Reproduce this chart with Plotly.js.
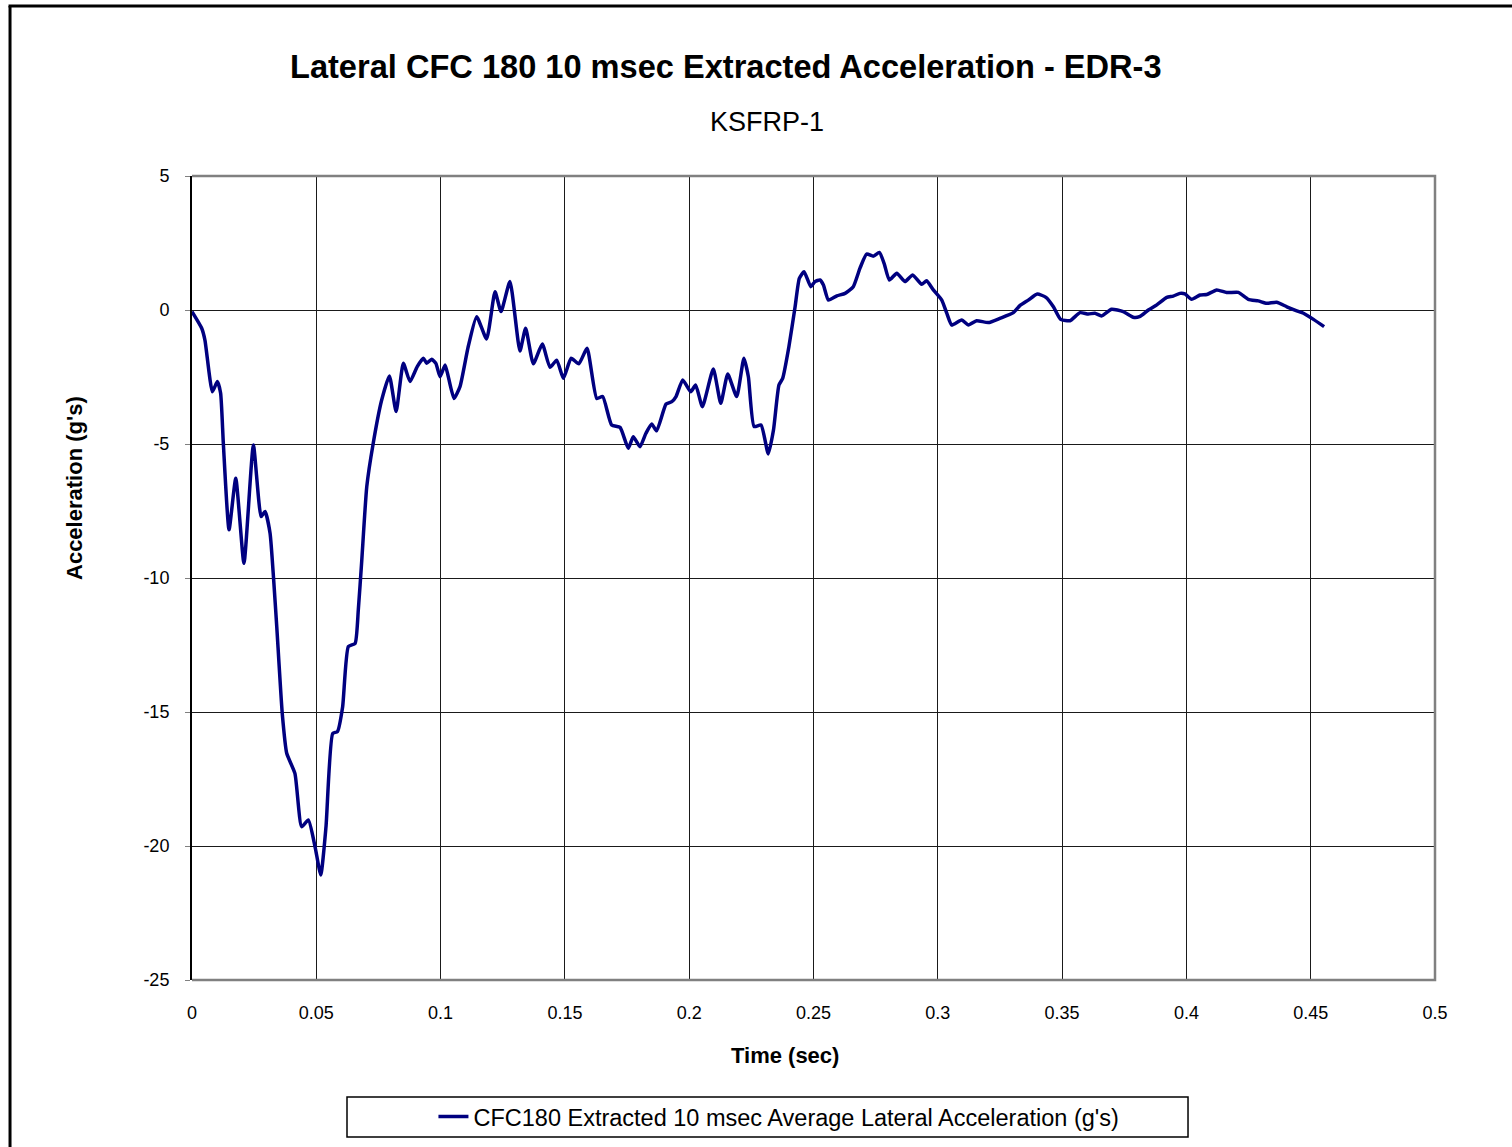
<!DOCTYPE html>
<html>
<head>
<meta charset="utf-8">
<script src="https://cdn.plot.ly/plotly-3.0.1.min.js"></script>
<style>
html,body{margin:0;padding:0;background:#fff;overflow:hidden;}
#chart{width:1512px;height:1147px;}
</style>
</head>
<body>
<div id="chart"></div>
<script>
const timeSec = [0,0.0039,0.0052,0.0082,0.0102,0.0115,0.0126,0.0149,0.0176,0.0209,0.0247,0.0278,0.0294,0.0314,0.0328,0.0341,0.0363,0.0381,0.0414,0.0441,0.0468,0.0495,0.0518,0.0539,0.0566,0.0585,0.0606,0.0629,0.0656,0.0669,0.0683,0.0703,0.0729,0.0763,0.0794,0.0821,0.0850,0.0877,0.0906,0.0931,0.0944,0.0964,0.0981,0.0998,0.1018,0.1031,0.1054,0.1078,0.1111,0.1145,0.1185,0.1219,0.1243,0.1279,0.1319,0.1342,0.1373,0.1409,0.1440,0.1467,0.1494,0.1525,0.1556,0.1589,0.1628,0.1652,0.1688,0.1722,0.1755,0.1775,0.1802,0.1826,0.1849,0.1869,0.1907,0.1930,0.1947,0.1974,0.2006,0.2026,0.2053,0.2097,0.2127,0.2155,0.2191,0.2220,0.2238,0.2261,0.2289,0.2318,0.2339,0.2361,0.2376,0.2401,0.2426,0.2443,0.2462,0.2489,0.2506,0.2526,0.2540,0.2560,0.2594,0.2627,0.2660,0.2687,0.2714,0.2741,0.2765,0.2784,0.2805,0.2835,0.2868,0.2899,0.2935,0.2955,0.2982,0.3016,0.3036,0.3056,0.3096,0.3123,0.3156,0.3203,0.3250,0.3304,0.3331,0.3364,0.3400,0.3435,0.3465,0.3494,0.3532,0.3572,0.3605,0.3632,0.3659,0.3699,0.3746,0.3786,0.3811,0.3847,0.3881,0.3921,0.3947,0.3974,0.3994,0.4021,0.4055,0.4082,0.4122,0.4162,0.4209,0.4249,0.4289,0.4323,0.4363,0.4404,0.4444,0.4471,0.4511,0.4554];
const accelG = [-0.06,-0.68,-1.12,-3.05,-2.67,-3.1,-4.97,-8.2,-6.28,-9.45,-5.04,-7.71,-7.52,-8.33,-10.0,-11.82,-15.05,-16.54,-17.29,-19.28,-19.03,-20.03,-21.08,-19.28,-15.8,-15.73,-14.8,-12.56,-12.44,-11.19,-9.33,-6.59,-4.97,-3.36,-2.46,-3.79,-1.99,-2.67,-2.11,-1.8,-1.99,-1.84,-1.99,-2.49,-2.05,-2.49,-3.3,-2.86,-1.37,-0.25,-1.08,0.68,-0.06,1.06,-1.53,-0.68,-2.01,-1.27,-2.14,-1.87,-2.55,-1.8,-2.01,-1.43,-3.3,-3.23,-4.29,-4.38,-5.16,-4.73,-5.1,-4.6,-4.25,-4.51,-3.51,-3.42,-3.23,-2.61,-3.05,-2.8,-3.61,-2.2,-3.48,-2.39,-3.23,-1.8,-2.49,-4.35,-4.29,-5.37,-4.48,-2.8,-2.55,-1.37,0.12,1.18,1.43,0.87,1.06,1.12,0.93,0.37,0.53,0.62,0.87,1.56,2.09,2.01,2.15,1.74,1.12,1.37,1.06,1.31,0.96,1.09,0.75,0.37,-0.12,-0.56,-0.37,-0.56,-0.40,-0.47,-0.31,-0.10,0.17,0.37,0.60,0.47,0.12,-0.35,-0.40,-0.10,-0.15,-0.12,-0.22,0.03,-0.06,-0.27,-0.25,0.00,0.19,0.47,0.52,0.62,0.60,0.40,0.56,0.58,0.75,0.65,0.66,0.40,0.34,0.25,0.29,0.12,-0.03,-0.12,-0.35,-0.62];
const xTickVals = [0,0.05,0.1,0.15,0.2,0.25,0.3,0.35,0.4,0.45,0.5];
const xTickText = ["0","0.05","0.1","0.15","0.2","0.25","0.3","0.35","0.4","0.45","0.5"];
const yTickVals = [-25,-20,-15,-10,-5,0,5];
const yTickText = ["-25","-20","-15","-10","-5","0","5"];
const seriesName = "CFC180 Extracted 10 msec Average Lateral Acceleration (g's)";
const chartTitle = "Lateral CFC 180 10 msec Extracted Acceleration - EDR-3";
const chartSubtitle = "KSFRP-1";
const xTitle = "Time (sec)";
const yTitle = "Acceleration (g's)";

const FONT = '"Liberation Sans", Arial, sans-serif';

const trace = {
  x: timeSec, y: accelG, type: 'scatter', mode: 'lines', name: seriesName,
  line: {color: '#000080', width: 3.5, shape: 'spline', smoothing: 0.5},
  showlegend: true
};

const layout = {
  width: 1512, height: 1147,
  margin: {l: 192, r: 77, t: 176, b: 167, autoexpand: false},
  paper_bgcolor: '#fff', plot_bgcolor: '#fff',
  font: {family: FONT, color: '#000', size: 18},
  showlegend: true,
  legend: {x: 0.4722, xanchor: 'center', y: -0.170, yanchor: 'middle', orientation: 'h',
           font: {family: FONT, size: 23.5, color: '#000'}, bgcolor: 'rgba(0,0,0,0)', borderwidth: 0},
  xaxis: {range: [0, 0.5], tickvals: xTickVals, ticktext: xTickText, showgrid: true,
          gridcolor: '#1a1a1a', gridwidth: 1, zeroline: false, showline: false,
          ticks: '', ticklabelstandoff: 20, tickfont: {family: FONT, size: 18, color: '#000'}},
  yaxis: {range: [-25, 5], tickvals: yTickVals, ticktext: yTickText, showgrid: true,
          gridcolor: '#1a1a1a', gridwidth: 1, zeroline: false, showline: true, linecolor: '#000', linewidth: 2,
          ticks: 'outside', ticklen: 5, tickcolor: '#808080', ticklabelstandoff: 12,
          tickfont: {family: FONT, size: 18, color: '#000'}},
  annotations: [
    {text: '<b>' + chartTitle + '</b>', xref: 'paper', yref: 'paper', x: 0.4296, y: 1.1368,
     xanchor: 'center', yanchor: 'middle', showarrow: false, font: {family: FONT, size: 32.6, color: '#000'}},
    {text: chartSubtitle, xref: 'paper', yref: 'paper', x: 0.4626, y: 1.067,
     xanchor: 'center', yanchor: 'middle', showarrow: false, font: {family: FONT, size: 27, color: '#000'}},
    {text: '<b>' + xTitle + '</b>', xref: 'paper', yref: 'paper', x: 0.477, y: -0.0933,
     xanchor: 'center', yanchor: 'middle', showarrow: false, font: {family: FONT, size: 22, color: '#000'}},
    {text: '<b>' + yTitle + '</b>', xref: 'paper', yref: 'paper', x: -0.0941, y: 0.612, textangle: -90,
     xanchor: 'center', yanchor: 'middle', showarrow: false, font: {family: FONT, size: 22, color: '#000'}}
  ],
  shapes: [
    {type: 'path', xref: 'paper', yref: 'paper', path: 'M 0,1 L 1,1 L 1,0 L 0,0',
     line: {color: '#808080', width: 2.5}, layer: 'above'},
    {type: 'rect', xref: 'paper', yref: 'paper', x0: 0.1247, x1: 0.8013, y0: -0.1953, y1: -0.1455,
     line: {color: '#000', width: 1.5}, fillcolor: 'rgba(0,0,0,0)'},
    {type: 'line', xref: 'paper', yref: 'paper', x0: -0.1464, x1: -0.1464, y0: -0.3, y1: 1.2114,
     line: {color: '#000', width: 3}},
    {type: 'line', xref: 'paper', yref: 'paper', x0: -0.1476, x1: 1.2, y0: 1.2114, y1: 1.2114,
     line: {color: '#000', width: 3}}
  ]
};

Plotly.newPlot('chart', [trace], layout, {staticPlot: true, displayModeBar: false});
</script>
</body>
</html>
